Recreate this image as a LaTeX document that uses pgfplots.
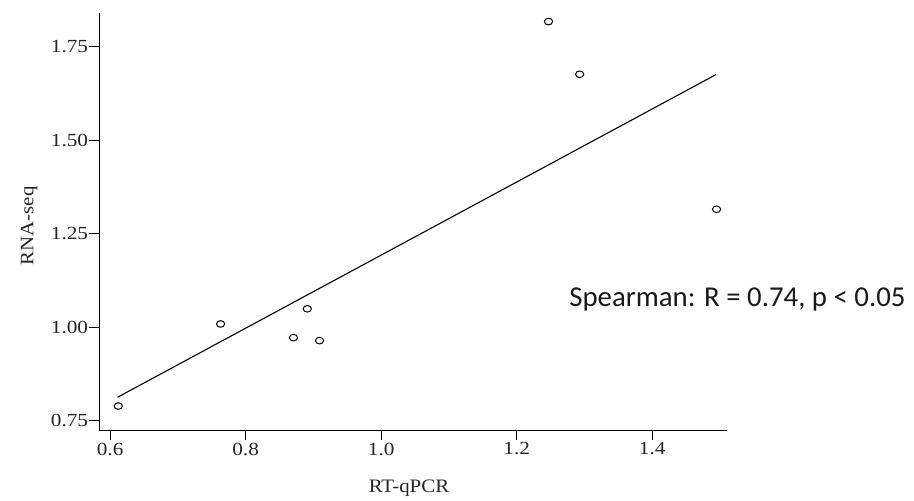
\documentclass[border=0pt]{standalone}
\usepackage{fontspec}
\setmainfont{Liberation Serif}[FakeStretch=1.1]
\newfontfamily\tickfont{Liberation Serif}[FakeStretch=1.15]
\newfontfamily\carlito{Carlito}
\usepackage{pgfplots}
\pgfplotsset{compat=1.18}
\begin{document}
\begin{tikzpicture}
\useasboundingbox (-99.3bp,-71bp) rectangle (814.7bp,430bp);
\begin{axis}[
  scale only axis,
  width=627.4bp, height=416.7bp,
  xmin=0.584, xmax=1.510,
  ymin=0.725, ymax=1.839,
  axis x line*=bottom, axis y line*=left,
  axis line style={line width=0.9bp, black, -},
  tick align=outside,
  major tick length=10bp,
  tick style={line width=0.9bp, black},
  xtick={0.6,0.8,1.0,1.2,1.4},
  xticklabels={0.6,0.8,1.0,1.2,1.4},
  ytick={0.75,1.0,1.25,1.5,1.75},
  yticklabels={0.75,1.00,1.25,1.50,1.75},
  /pgf/number format/assume math mode=true,
  ticklabel style={font=\tickfont\fontsize{18.5bp}{21bp}\selectfont, text=black!85},
  yticklabel style={inner sep=1bp},
  xticklabel style={inner sep=2.5bp},
  xlabel={RT-qPCR}, ylabel={RNA-seq},
  label style={font=\fontsize{19bp}{22bp}\selectfont, text=black!85},
  xlabel style={at={(axis description cs:0.4936,-0.139)}, anchor=center},
  ylabel style={at={(axis description cs:-0.112,0.49)}, anchor=center},
  clip=false,
]
\addplot[black, line width=1.1bp] coordinates {(0.611,0.8126) (1.494,1.675)};
\addplot[only marks, mark=o, mark size=3.3bp, mark options={xscale=1.25, line width=1bp, black}] coordinates {
(0.612,0.789)
(0.763,1.0085)
(0.8706,0.972)
(0.891,1.049)
(0.909,0.964)
(1.247,1.817)
(1.293,1.676)
(1.495,1.315)
};
\node[anchor=base west, inner sep=0pt, font=\carlito\fontsize{28.8bp}{32bp}\selectfont, text=black!90] at (axis cs:1.2775,1.055) {Spearman: R = 0.74, p < 0.05};
\end{axis}
\end{tikzpicture}
\end{document}
